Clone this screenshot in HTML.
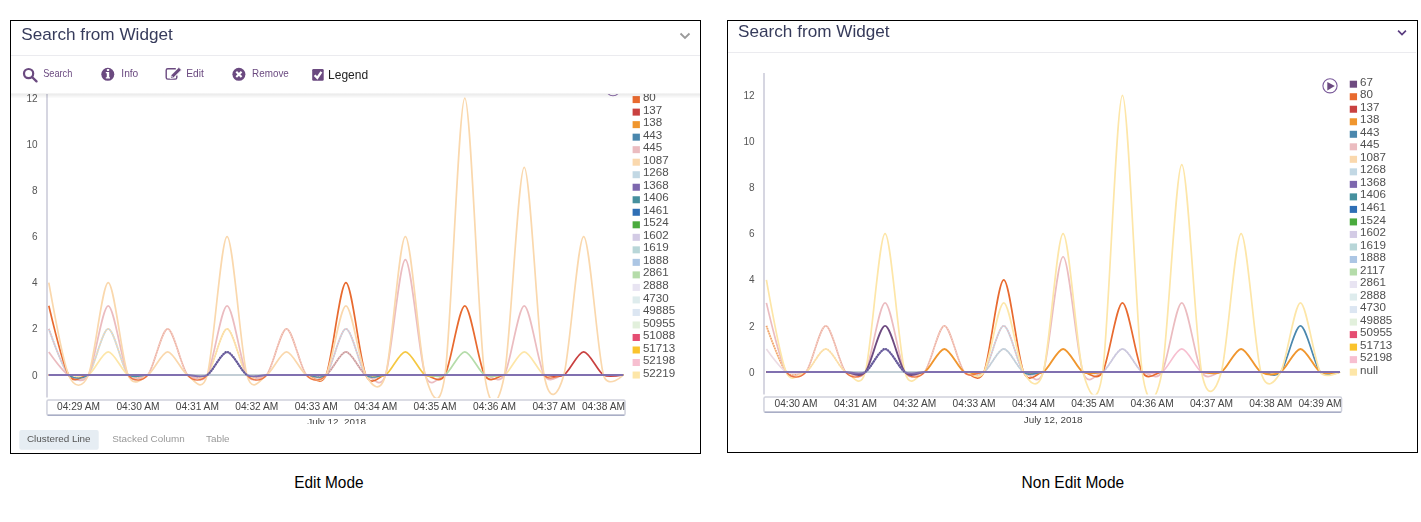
<!DOCTYPE html><html><head><meta charset="utf-8"><style>html,body{margin:0;padding:0;background:#fff}body{width:1421px;height:522px;overflow:hidden;position:relative}svg{position:absolute;left:0;top:0}</style></head><body>
<svg width="1421" height="522" viewBox="0 0 1421 522" font-family='"Liberation Sans", sans-serif'>
<text x="328.9" y="487.9" font-size="16.3" fill="#000" text-anchor="middle" textLength="69.4" lengthAdjust="spacingAndGlyphs">Edit Mode</text>
<text x="1072.9" y="487.8" font-size="16.3" fill="#000" text-anchor="middle" textLength="102.6" lengthAdjust="spacingAndGlyphs">Non Edit Mode</text>
</svg>
<div style="position:absolute;left:0;top:0;width:1421px;height:522px;will-change:transform"><svg width="1421" height="522" viewBox="0 0 1421 522" font-family='"Liberation Sans", sans-serif'>
<defs>
<clipPath id="clipL"><rect x="11" y="94" width="689" height="330"/></clipPath>
<clipPath id="plotL"><rect x="48" y="60" width="580" height="338"/></clipPath>
<clipPath id="plotR"><rect x="765" y="60" width="580" height="334.5"/></clipPath>
<linearGradient id="shadow" x1="0" y1="0" x2="0" y2="1"><stop offset="0" stop-color="#000" stop-opacity="0.09"/><stop offset="1" stop-color="#000" stop-opacity="0"/></linearGradient>
</defs>
<rect x="10.5" y="20.5" width="690" height="433" fill="#fff" stroke="#000" stroke-width="1"/>
<rect x="727.5" y="20.5" width="690" height="432" fill="#fff" stroke="#000" stroke-width="1"/>
<g clip-path="url(#clipL)">
<rect x="46.20" y="60" width="1.6" height="337.5" fill="#cdcdda"/>
<text x="37.5" y="378.60" font-size="10" fill="#555" text-anchor="end">0</text>
<text x="37.5" y="332.46" font-size="10" fill="#555" text-anchor="end">2</text>
<text x="37.5" y="286.32" font-size="10" fill="#555" text-anchor="end">4</text>
<text x="37.5" y="240.18" font-size="10" fill="#555" text-anchor="end">6</text>
<text x="37.5" y="194.04" font-size="10" fill="#555" text-anchor="end">8</text>
<text x="37.5" y="147.90" font-size="10" fill="#555" text-anchor="end">10</text>
<text x="37.5" y="101.76" font-size="10" fill="#555" text-anchor="end">12</text>
<rect x="46.95" y="399.95" width="578.10" height="15.20" rx="1.5" fill="none" stroke="#cfd1dc" stroke-width="1.5"/>
<line x1="47.7" x2="624.3" y1="415.15" y2="415.15" stroke="#a9aec6" stroke-width="1.5"/>
<text x="78.51" y="410" font-size="10.2" fill="#444" text-anchor="middle">04:29 AM</text>
<text x="137.94" y="410" font-size="10.2" fill="#444" text-anchor="middle">04:30 AM</text>
<text x="197.38" y="410" font-size="10.2" fill="#444" text-anchor="middle">04:31 AM</text>
<text x="256.81" y="410" font-size="10.2" fill="#444" text-anchor="middle">04:32 AM</text>
<text x="316.24" y="410" font-size="10.2" fill="#444" text-anchor="middle">04:33 AM</text>
<text x="375.66" y="410" font-size="10.2" fill="#444" text-anchor="middle">04:34 AM</text>
<text x="435.09" y="410" font-size="10.2" fill="#444" text-anchor="middle">04:35 AM</text>
<text x="494.52" y="410" font-size="10.2" fill="#444" text-anchor="middle">04:36 AM</text>
<text x="553.95" y="410" font-size="10.2" fill="#444" text-anchor="middle">04:37 AM</text>
<text x="625" y="410" font-size="10.2" fill="#444" text-anchor="end">04:38 AM</text>
<text x="336.6" y="425.2" font-size="9.9" fill="#444" text-anchor="middle">July 12, 2018</text>
<g clip-path="url(#plotL)">
<path d="M48.80,328.86C48.80,328.86 62.75,368.17 68.61,375.00C74.47,381.83 82.56,381.83 88.42,375.00C94.28,368.17 102.37,328.86 108.23,328.86C114.09,328.86 122.18,368.17 128.04,375.00C133.90,381.83 141.99,375.00 147.85,375.00C153.71,375.00 161.80,375.00 167.66,375.00C173.52,375.00 181.61,375.00 187.47,375.00C193.33,375.00 201.42,375.00 207.28,375.00C213.14,375.00 221.23,375.00 227.09,375.00C232.95,375.00 241.04,375.00 246.90,375.00C252.76,375.00 260.85,375.00 266.71,375.00C272.57,375.00 280.66,375.00 286.52,375.00C292.38,375.00 300.47,375.00 306.33,375.00C312.19,375.00 320.28,381.83 326.14,375.00C332.00,368.17 340.09,328.86 345.95,328.86C351.81,328.86 359.90,368.17 365.76,375.00C371.62,381.83 379.71,375.00 385.57,375.00C391.43,375.00 399.52,375.00 405.38,375.00C411.24,375.00 419.33,375.00 425.19,375.00C431.05,375.00 439.14,375.00 445.00,375.00C450.86,375.00 458.95,375.00 464.81,375.00C470.67,375.00 478.76,375.00 484.62,375.00C490.48,375.00 498.57,375.00 504.43,375.00C510.29,375.00 518.38,375.00 524.24,375.00C530.10,375.00 538.19,375.00 544.05,375.00C549.91,375.00 558.00,375.00 563.86,375.00C569.72,375.00 577.81,375.00 583.67,375.00C589.53,375.00 597.62,375.00 603.48,375.00C607.84,375.00 623.29,375.00 623.29,375.00" fill="none" stroke="#c2d8e4" stroke-width="1.7" />
<path d="M48.80,328.86C48.80,328.86 62.75,368.17 68.61,375.00C74.47,381.83 82.56,375.00 88.42,375.00C94.28,375.00 102.37,375.00 108.23,375.00C114.09,375.00 122.18,375.00 128.04,375.00C133.90,375.00 141.99,375.00 147.85,375.00C153.71,375.00 161.80,375.00 167.66,375.00C173.52,375.00 181.61,375.00 187.47,375.00C193.33,375.00 201.42,375.00 207.28,375.00C213.14,375.00 221.23,375.00 227.09,375.00C232.95,375.00 241.04,375.00 246.90,375.00C252.76,375.00 260.85,375.00 266.71,375.00C272.57,375.00 280.66,375.00 286.52,375.00C292.38,375.00 300.47,375.00 306.33,375.00C312.19,375.00 320.28,381.83 326.14,375.00C332.00,368.17 340.09,328.86 345.95,328.86C351.81,328.86 359.90,368.17 365.76,375.00C371.62,381.83 379.71,375.00 385.57,375.00C391.43,375.00 399.52,375.00 405.38,375.00C411.24,375.00 419.33,375.00 425.19,375.00C431.05,375.00 439.14,375.00 445.00,375.00C450.86,375.00 458.95,375.00 464.81,375.00C470.67,375.00 478.76,375.00 484.62,375.00C490.48,375.00 498.57,375.00 504.43,375.00C510.29,375.00 518.38,375.00 524.24,375.00C530.10,375.00 538.19,375.00 544.05,375.00C549.91,375.00 558.00,375.00 563.86,375.00C569.72,375.00 577.81,375.00 583.67,375.00C589.53,375.00 597.62,375.00 603.48,375.00C607.84,375.00 623.29,375.00 623.29,375.00" fill="none" stroke="#ebbcc0" stroke-width="1.7" stroke-dasharray="1.3 1.3"/>
<path d="M48.80,375.00C48.80,375.00 62.75,375.00 68.61,375.00C74.47,375.00 82.56,381.83 88.42,375.00C94.28,368.17 102.37,328.86 108.23,328.86C114.09,328.86 122.18,368.17 128.04,375.00C133.90,381.83 141.99,375.00 147.85,375.00C153.71,375.00 161.80,375.00 167.66,375.00C173.52,375.00 181.61,375.00 187.47,375.00C193.33,375.00 201.42,375.00 207.28,375.00C213.14,375.00 221.23,375.00 227.09,375.00C232.95,375.00 241.04,375.00 246.90,375.00C252.76,375.00 260.85,375.00 266.71,375.00C272.57,375.00 280.66,375.00 286.52,375.00C292.38,375.00 300.47,375.00 306.33,375.00C312.19,375.00 320.28,375.00 326.14,375.00C332.00,375.00 340.09,375.00 345.95,375.00C351.81,375.00 359.90,375.00 365.76,375.00C371.62,375.00 379.71,375.00 385.57,375.00C391.43,375.00 399.52,375.00 405.38,375.00C411.24,375.00 419.33,375.00 425.19,375.00C431.05,375.00 439.14,375.00 445.00,375.00C450.86,375.00 458.95,375.00 464.81,375.00C470.67,375.00 478.76,375.00 484.62,375.00C490.48,375.00 498.57,375.00 504.43,375.00C510.29,375.00 518.38,375.00 524.24,375.00C530.10,375.00 538.19,375.00 544.05,375.00C549.91,375.00 558.00,375.00 563.86,375.00C569.72,375.00 577.81,375.00 583.67,375.00C589.53,375.00 597.62,375.00 603.48,375.00C607.84,375.00 623.29,375.00 623.29,375.00" fill="none" stroke="#fad8ad" stroke-width="1.7" stroke-dasharray="1.3 1.3"/>
<path d="M48.80,375.00C48.80,375.00 62.75,375.00 68.61,375.00C74.47,375.00 82.56,375.00 88.42,375.00C94.28,375.00 102.37,375.00 108.23,375.00C114.09,375.00 122.18,375.00 128.04,375.00C133.90,375.00 141.99,375.00 147.85,375.00C153.71,375.00 161.80,375.00 167.66,375.00C173.52,375.00 181.61,375.00 187.47,375.00C193.33,375.00 201.42,381.83 207.28,375.00C213.14,368.17 221.23,328.86 227.09,328.86C232.95,328.86 241.04,368.17 246.90,375.00C252.76,381.83 260.85,375.00 266.71,375.00C272.57,375.00 280.66,375.00 286.52,375.00C292.38,375.00 300.47,375.00 306.33,375.00C312.19,375.00 320.28,375.00 326.14,375.00C332.00,375.00 340.09,375.00 345.95,375.00C351.81,375.00 359.90,375.00 365.76,375.00C371.62,375.00 379.71,375.00 385.57,375.00C391.43,375.00 399.52,375.00 405.38,375.00C411.24,375.00 419.33,375.00 425.19,375.00C431.05,375.00 439.14,375.00 445.00,375.00C450.86,375.00 458.95,375.00 464.81,375.00C470.67,375.00 478.76,375.00 484.62,375.00C490.48,375.00 498.57,375.00 504.43,375.00C510.29,375.00 518.38,375.00 524.24,375.00C530.10,375.00 538.19,375.00 544.05,375.00C549.91,375.00 558.00,375.00 563.86,375.00C569.72,375.00 577.81,375.00 583.67,375.00C589.53,375.00 597.62,375.00 603.48,375.00C607.84,375.00 623.29,375.00 623.29,375.00" fill="none" stroke="#fde6a8" stroke-width="1.7" />
<path d="M48.80,375.00C48.80,375.00 62.75,375.00 68.61,375.00C74.47,375.00 82.56,375.00 88.42,375.00C94.28,375.00 102.37,375.00 108.23,375.00C114.09,375.00 122.18,375.00 128.04,375.00C133.90,375.00 141.99,375.00 147.85,375.00C153.71,375.00 161.80,375.00 167.66,375.00C173.52,375.00 181.61,375.00 187.47,375.00C193.33,375.00 201.42,381.83 207.28,375.00C213.14,368.17 221.23,328.86 227.09,328.86C232.95,328.86 241.04,368.17 246.90,375.00C252.76,381.83 260.85,375.00 266.71,375.00C272.57,375.00 280.66,375.00 286.52,375.00C292.38,375.00 300.47,375.00 306.33,375.00C312.19,375.00 320.28,375.00 326.14,375.00C332.00,375.00 340.09,375.00 345.95,375.00C351.81,375.00 359.90,375.00 365.76,375.00C371.62,375.00 379.71,375.00 385.57,375.00C391.43,375.00 399.52,375.00 405.38,375.00C411.24,375.00 419.33,375.00 425.19,375.00C431.05,375.00 439.14,375.00 445.00,375.00C450.86,375.00 458.95,375.00 464.81,375.00C470.67,375.00 478.76,375.00 484.62,375.00C490.48,375.00 498.57,375.00 504.43,375.00C510.29,375.00 518.38,375.00 524.24,375.00C530.10,375.00 538.19,375.00 544.05,375.00C549.91,375.00 558.00,375.00 563.86,375.00C569.72,375.00 577.81,375.00 583.67,375.00C589.53,375.00 597.62,375.00 603.48,375.00C607.84,375.00 623.29,375.00 623.29,375.00" fill="none" stroke="#fad8ad" stroke-width="1.7" stroke-dasharray="1.3 1.3"/>
<path d="M48.80,375.00C48.80,375.00 62.75,375.00 68.61,375.00C74.47,375.00 82.56,375.00 88.42,375.00C94.28,375.00 102.37,375.00 108.23,375.00C114.09,375.00 122.18,375.00 128.04,375.00C133.90,375.00 141.99,381.83 147.85,375.00C153.71,368.17 161.80,328.86 167.66,328.86C173.52,328.86 181.61,368.17 187.47,375.00C193.33,381.83 201.42,375.00 207.28,375.00C213.14,375.00 221.23,375.00 227.09,375.00C232.95,375.00 241.04,375.00 246.90,375.00C252.76,375.00 260.85,381.83 266.71,375.00C272.57,368.17 280.66,328.86 286.52,328.86C292.38,328.86 300.47,368.17 306.33,375.00C312.19,381.83 320.28,375.00 326.14,375.00C332.00,375.00 340.09,375.00 345.95,375.00C351.81,375.00 359.90,375.00 365.76,375.00C371.62,375.00 379.71,375.00 385.57,375.00C391.43,375.00 399.52,375.00 405.38,375.00C411.24,375.00 419.33,375.00 425.19,375.00C431.05,375.00 439.14,375.00 445.00,375.00C450.86,375.00 458.95,375.00 464.81,375.00C470.67,375.00 478.76,375.00 484.62,375.00C490.48,375.00 498.57,375.00 504.43,375.00C510.29,375.00 518.38,375.00 524.24,375.00C530.10,375.00 538.19,375.00 544.05,375.00C549.91,375.00 558.00,375.00 563.86,375.00C569.72,375.00 577.81,375.00 583.67,375.00C589.53,375.00 597.62,375.00 603.48,375.00C607.84,375.00 623.29,375.00 623.29,375.00" fill="none" stroke="#ecb0a2" stroke-width="1.7" />
<path d="M48.80,375.00C48.80,375.00 62.75,375.00 68.61,375.00C74.47,375.00 82.56,375.00 88.42,375.00C94.28,375.00 102.37,375.00 108.23,375.00C114.09,375.00 122.18,375.00 128.04,375.00C133.90,375.00 141.99,381.83 147.85,375.00C153.71,368.17 161.80,328.86 167.66,328.86C173.52,328.86 181.61,368.17 187.47,375.00C193.33,381.83 201.42,375.00 207.28,375.00C213.14,375.00 221.23,375.00 227.09,375.00C232.95,375.00 241.04,375.00 246.90,375.00C252.76,375.00 260.85,381.83 266.71,375.00C272.57,368.17 280.66,328.86 286.52,328.86C292.38,328.86 300.47,368.17 306.33,375.00C312.19,381.83 320.28,375.00 326.14,375.00C332.00,375.00 340.09,375.00 345.95,375.00C351.81,375.00 359.90,375.00 365.76,375.00C371.62,375.00 379.71,375.00 385.57,375.00C391.43,375.00 399.52,375.00 405.38,375.00C411.24,375.00 419.33,375.00 425.19,375.00C431.05,375.00 439.14,375.00 445.00,375.00C450.86,375.00 458.95,375.00 464.81,375.00C470.67,375.00 478.76,375.00 484.62,375.00C490.48,375.00 498.57,375.00 504.43,375.00C510.29,375.00 518.38,375.00 524.24,375.00C530.10,375.00 538.19,375.00 544.05,375.00C549.91,375.00 558.00,375.00 563.86,375.00C569.72,375.00 577.81,375.00 583.67,375.00C589.53,375.00 597.62,375.00 603.48,375.00C607.84,375.00 623.29,375.00 623.29,375.00" fill="none" stroke="#f6d0c6" stroke-width="1.7" stroke-dasharray="1.3 1.3"/>
<path d="M48.80,375.00C48.80,375.00 62.75,375.00 68.61,375.00C74.47,375.00 82.56,375.00 88.42,375.00C94.28,375.00 102.37,375.00 108.23,375.00C114.09,375.00 122.18,375.00 128.04,375.00C133.90,375.00 141.99,375.00 147.85,375.00C153.71,375.00 161.80,375.00 167.66,375.00C173.52,375.00 181.61,375.00 187.47,375.00C193.33,375.00 201.42,375.00 207.28,375.00C213.14,375.00 221.23,375.00 227.09,375.00C232.95,375.00 241.04,375.00 246.90,375.00C252.76,375.00 260.85,375.00 266.71,375.00C272.57,375.00 280.66,375.00 286.52,375.00C292.38,375.00 300.47,375.00 306.33,375.00C312.19,375.00 320.28,378.41 326.14,375.00C332.00,371.59 340.09,351.93 345.95,351.93C351.81,351.93 359.90,371.59 365.76,375.00C371.62,378.41 379.71,375.00 385.57,375.00C391.43,375.00 399.52,375.00 405.38,375.00C411.24,375.00 419.33,375.00 425.19,375.00C431.05,375.00 439.14,375.00 445.00,375.00C450.86,375.00 458.95,375.00 464.81,375.00C470.67,375.00 478.76,375.00 484.62,375.00C490.48,375.00 498.57,375.00 504.43,375.00C510.29,375.00 518.38,375.00 524.24,375.00C530.10,375.00 538.19,375.00 544.05,375.00C549.91,375.00 558.00,375.00 563.86,375.00C569.72,375.00 577.81,375.00 583.67,375.00C589.53,375.00 597.62,375.00 603.48,375.00C607.84,375.00 623.29,375.00 623.29,375.00" fill="none" stroke="#c09a98" stroke-width="1.7" />
<path d="M48.80,375.00C48.80,375.00 62.75,375.00 68.61,375.00C74.47,375.00 82.56,375.00 88.42,375.00C94.28,375.00 102.37,375.00 108.23,375.00C114.09,375.00 122.18,375.00 128.04,375.00C133.90,375.00 141.99,375.00 147.85,375.00C153.71,375.00 161.80,375.00 167.66,375.00C173.52,375.00 181.61,375.00 187.47,375.00C193.33,375.00 201.42,375.00 207.28,375.00C213.14,375.00 221.23,375.00 227.09,375.00C232.95,375.00 241.04,375.00 246.90,375.00C252.76,375.00 260.85,375.00 266.71,375.00C272.57,375.00 280.66,375.00 286.52,375.00C292.38,375.00 300.47,375.00 306.33,375.00C312.19,375.00 320.28,378.41 326.14,375.00C332.00,371.59 340.09,351.93 345.95,351.93C351.81,351.93 359.90,371.59 365.76,375.00C371.62,378.41 379.71,375.00 385.57,375.00C391.43,375.00 399.52,375.00 405.38,375.00C411.24,375.00 419.33,375.00 425.19,375.00C431.05,375.00 439.14,375.00 445.00,375.00C450.86,375.00 458.95,375.00 464.81,375.00C470.67,375.00 478.76,375.00 484.62,375.00C490.48,375.00 498.57,375.00 504.43,375.00C510.29,375.00 518.38,375.00 524.24,375.00C530.10,375.00 538.19,375.00 544.05,375.00C549.91,375.00 558.00,375.00 563.86,375.00C569.72,375.00 577.81,375.00 583.67,375.00C589.53,375.00 597.62,375.00 603.48,375.00C607.84,375.00 623.29,375.00 623.29,375.00" fill="none" stroke="#ebbcc0" stroke-width="1.7" stroke-dasharray="1.3 1.3"/>
<path d="M48.80,375.00C48.80,375.00 62.75,375.00 68.61,375.00C74.47,375.00 82.56,378.41 88.42,375.00C94.28,371.59 102.37,351.93 108.23,351.93C114.09,351.93 122.18,371.59 128.04,375.00C133.90,378.41 141.99,375.00 147.85,375.00C153.71,375.00 161.80,375.00 167.66,375.00C173.52,375.00 181.61,375.00 187.47,375.00C193.33,375.00 201.42,375.00 207.28,375.00C213.14,375.00 221.23,375.00 227.09,375.00C232.95,375.00 241.04,375.00 246.90,375.00C252.76,375.00 260.85,375.00 266.71,375.00C272.57,375.00 280.66,375.00 286.52,375.00C292.38,375.00 300.47,375.00 306.33,375.00C312.19,375.00 320.28,375.00 326.14,375.00C332.00,375.00 340.09,375.00 345.95,375.00C351.81,375.00 359.90,375.00 365.76,375.00C371.62,375.00 379.71,375.00 385.57,375.00C391.43,375.00 399.52,375.00 405.38,375.00C411.24,375.00 419.33,375.00 425.19,375.00C431.05,375.00 439.14,375.00 445.00,375.00C450.86,375.00 458.95,375.00 464.81,375.00C470.67,375.00 478.76,375.00 484.62,375.00C490.48,375.00 498.57,378.41 504.43,375.00C510.29,371.59 518.38,351.93 524.24,351.93C530.10,351.93 538.19,371.59 544.05,375.00C549.91,378.41 558.00,375.00 563.86,375.00C569.72,375.00 577.81,375.00 583.67,375.00C589.53,375.00 597.62,375.00 603.48,375.00C607.84,375.00 623.29,375.00 623.29,375.00" fill="none" stroke="#fde6a8" stroke-width="1.7" />
<path d="M48.80,351.93C48.80,351.93 62.75,371.59 68.61,375.00C74.47,378.41 82.56,385.24 88.42,375.00C94.28,364.76 102.37,305.79 108.23,305.79C114.09,305.79 122.18,364.76 128.04,375.00C133.90,385.24 141.99,375.00 147.85,375.00C153.71,375.00 161.80,375.00 167.66,375.00C173.52,375.00 181.61,375.00 187.47,375.00C193.33,375.00 201.42,385.24 207.28,375.00C213.14,364.76 221.23,305.79 227.09,305.79C232.95,305.79 241.04,364.76 246.90,375.00C252.76,385.24 260.85,375.00 266.71,375.00C272.57,375.00 280.66,375.00 286.52,375.00C292.38,375.00 300.47,375.00 306.33,375.00C312.19,375.00 320.28,375.00 326.14,375.00C332.00,375.00 340.09,375.00 345.95,375.00C351.81,375.00 359.90,375.00 365.76,375.00C371.62,375.00 379.71,392.07 385.57,375.00C391.43,357.93 399.52,259.65 405.38,259.65C411.24,259.65 419.33,357.93 425.19,375.00C431.05,392.07 439.14,375.00 445.00,375.00C450.86,375.00 458.95,375.00 464.81,375.00C470.67,375.00 478.76,375.00 484.62,375.00C490.48,375.00 498.57,385.24 504.43,375.00C510.29,364.76 518.38,305.79 524.24,305.79C530.10,305.79 538.19,364.76 544.05,375.00C549.91,385.24 558.00,375.00 563.86,375.00C569.72,375.00 577.81,375.00 583.67,375.00C589.53,375.00 597.62,375.00 603.48,375.00C607.84,375.00 623.29,375.00 623.29,375.00" fill="none" stroke="#ebbcc0" stroke-width="1.7" />
<path d="M48.80,305.79C48.80,305.79 62.75,364.76 68.61,375.00C74.47,385.24 82.56,375.00 88.42,375.00C94.28,375.00 102.37,375.00 108.23,375.00C114.09,375.00 122.18,375.00 128.04,375.00C133.90,375.00 141.99,375.00 147.85,375.00C153.71,375.00 161.80,375.00 167.66,375.00C173.52,375.00 181.61,375.00 187.47,375.00C193.33,375.00 201.42,375.00 207.28,375.00C213.14,375.00 221.23,375.00 227.09,375.00C232.95,375.00 241.04,375.00 246.90,375.00C252.76,375.00 260.85,375.00 266.71,375.00C272.57,375.00 280.66,375.00 286.52,375.00C292.38,375.00 300.47,375.00 306.33,375.00C312.19,375.00 320.28,388.66 326.14,375.00C332.00,361.34 340.09,282.72 345.95,282.72C351.81,282.72 359.90,361.34 365.76,375.00C371.62,388.66 379.71,375.00 385.57,375.00C391.43,375.00 399.52,375.00 405.38,375.00C411.24,375.00 419.33,375.00 425.19,375.00C431.05,375.00 439.14,385.24 445.00,375.00C450.86,364.76 458.95,305.79 464.81,305.79C470.67,305.79 478.76,364.76 484.62,375.00C490.48,385.24 498.57,375.00 504.43,375.00C510.29,375.00 518.38,375.00 524.24,375.00C530.10,375.00 538.19,375.00 544.05,375.00C549.91,375.00 558.00,375.00 563.86,375.00C569.72,375.00 577.81,375.00 583.67,375.00C589.53,375.00 597.62,375.00 603.48,375.00C607.84,375.00 623.29,375.00 623.29,375.00" fill="none" stroke="#e86a2f" stroke-width="1.7" />
<path d="M48.80,375.00C48.80,375.00 62.75,375.00 68.61,375.00C74.47,375.00 82.56,375.00 88.42,375.00C94.28,375.00 102.37,375.00 108.23,375.00C114.09,375.00 122.18,375.00 128.04,375.00C133.90,375.00 141.99,375.00 147.85,375.00C153.71,375.00 161.80,375.00 167.66,375.00C173.52,375.00 181.61,375.00 187.47,375.00C193.33,375.00 201.42,375.00 207.28,375.00C213.14,375.00 221.23,375.00 227.09,375.00C232.95,375.00 241.04,375.00 246.90,375.00C252.76,375.00 260.85,375.00 266.71,375.00C272.57,375.00 280.66,375.00 286.52,375.00C292.38,375.00 300.47,375.00 306.33,375.00C312.19,375.00 320.28,375.00 326.14,375.00C332.00,375.00 340.09,375.00 345.95,375.00C351.81,375.00 359.90,375.00 365.76,375.00C371.62,375.00 379.71,378.41 385.57,375.00C391.43,371.59 399.52,351.93 405.38,351.93C411.24,351.93 419.33,371.59 425.19,375.00C431.05,378.41 439.14,375.00 445.00,375.00C450.86,375.00 458.95,375.00 464.81,375.00C470.67,375.00 478.76,375.00 484.62,375.00C490.48,375.00 498.57,375.00 504.43,375.00C510.29,375.00 518.38,375.00 524.24,375.00C530.10,375.00 538.19,375.00 544.05,375.00C549.91,375.00 558.00,375.00 563.86,375.00C569.72,375.00 577.81,375.00 583.67,375.00C589.53,375.00 597.62,375.00 603.48,375.00C607.84,375.00 623.29,375.00 623.29,375.00" fill="none" stroke="#f5c842" stroke-width="1.7" />
<path d="M48.80,375.00C48.80,375.00 62.75,375.00 68.61,375.00C74.47,375.00 82.56,375.00 88.42,375.00C94.28,375.00 102.37,375.00 108.23,375.00C114.09,375.00 122.18,375.00 128.04,375.00C133.90,375.00 141.99,375.00 147.85,375.00C153.71,375.00 161.80,375.00 167.66,375.00C173.52,375.00 181.61,375.00 187.47,375.00C193.33,375.00 201.42,375.00 207.28,375.00C213.14,375.00 221.23,375.00 227.09,375.00C232.95,375.00 241.04,375.00 246.90,375.00C252.76,375.00 260.85,375.00 266.71,375.00C272.57,375.00 280.66,375.00 286.52,375.00C292.38,375.00 300.47,375.00 306.33,375.00C312.19,375.00 320.28,375.00 326.14,375.00C332.00,375.00 340.09,375.00 345.95,375.00C351.81,375.00 359.90,375.00 365.76,375.00C371.62,375.00 379.71,375.00 385.57,375.00C391.43,375.00 399.52,375.00 405.38,375.00C411.24,375.00 419.33,375.00 425.19,375.00C431.05,375.00 439.14,378.41 445.00,375.00C450.86,371.59 458.95,351.93 464.81,351.93C470.67,351.93 478.76,371.59 484.62,375.00C490.48,378.41 498.57,375.00 504.43,375.00C510.29,375.00 518.38,375.00 524.24,375.00C530.10,375.00 538.19,375.00 544.05,375.00C549.91,375.00 558.00,375.00 563.86,375.00C569.72,375.00 577.81,375.00 583.67,375.00C589.53,375.00 597.62,375.00 603.48,375.00C607.84,375.00 623.29,375.00 623.29,375.00" fill="none" stroke="#b5dcaa" stroke-width="1.7" />
<path d="M48.80,375.00C48.80,375.00 62.75,375.00 68.61,375.00C74.47,375.00 82.56,375.00 88.42,375.00C94.28,375.00 102.37,375.00 108.23,375.00C114.09,375.00 122.18,375.00 128.04,375.00C133.90,375.00 141.99,375.00 147.85,375.00C153.71,375.00 161.80,375.00 167.66,375.00C173.52,375.00 181.61,375.00 187.47,375.00C193.33,375.00 201.42,375.00 207.28,375.00C213.14,375.00 221.23,375.00 227.09,375.00C232.95,375.00 241.04,375.00 246.90,375.00C252.76,375.00 260.85,375.00 266.71,375.00C272.57,375.00 280.66,375.00 286.52,375.00C292.38,375.00 300.47,375.00 306.33,375.00C312.19,375.00 320.28,375.00 326.14,375.00C332.00,375.00 340.09,375.00 345.95,375.00C351.81,375.00 359.90,375.00 365.76,375.00C371.62,375.00 379.71,375.00 385.57,375.00C391.43,375.00 399.52,375.00 405.38,375.00C411.24,375.00 419.33,375.00 425.19,375.00C431.05,375.00 439.14,375.00 445.00,375.00C450.86,375.00 458.95,375.00 464.81,375.00C470.67,375.00 478.76,375.00 484.62,375.00C490.48,375.00 498.57,375.00 504.43,375.00C510.29,375.00 518.38,375.00 524.24,375.00C530.10,375.00 538.19,375.00 544.05,375.00C549.91,375.00 558.00,378.41 563.86,375.00C569.72,371.59 577.81,351.93 583.67,351.93C589.53,351.93 597.62,371.59 603.48,375.00C607.84,377.54 623.29,375.00 623.29,375.00" fill="none" stroke="#c94140" stroke-width="1.7" />
<path d="M48.80,282.72C48.80,282.72 62.75,361.34 68.61,375.00C74.47,388.66 82.56,388.66 88.42,375.00C94.28,361.34 102.37,282.72 108.23,282.72C114.09,282.72 122.18,361.34 128.04,375.00C133.90,388.66 141.99,378.41 147.85,375.00C153.71,371.59 161.80,351.93 167.66,351.93C173.52,351.93 181.61,371.59 187.47,375.00C193.33,378.41 201.42,395.49 207.28,375.00C213.14,354.51 221.23,236.58 227.09,236.58C232.95,236.58 241.04,354.51 246.90,375.00C252.76,395.49 260.85,378.41 266.71,375.00C272.57,371.59 280.66,351.93 286.52,351.93C292.38,351.93 300.47,371.59 306.33,375.00C312.19,378.41 320.28,385.24 326.14,375.00C332.00,364.76 340.09,305.79 345.95,305.79C351.81,305.79 359.90,364.76 365.76,375.00C371.62,385.24 379.71,395.49 385.57,375.00C391.43,354.51 399.52,236.58 405.38,236.58C411.24,236.58 419.33,354.51 425.19,375.00C431.05,395.49 439.14,415.97 445.00,375.00C450.86,334.03 458.95,98.16 464.81,98.16C470.67,98.16 478.76,334.03 484.62,375.00C490.48,415.97 498.57,405.73 504.43,375.00C510.29,344.27 518.38,167.37 524.24,167.37C530.10,167.37 538.19,344.27 544.05,375.00C549.91,405.73 558.00,395.49 563.86,375.00C569.72,354.51 577.81,236.58 583.67,236.58C589.53,236.58 597.62,354.51 603.48,375.00C607.84,390.23 623.29,375.00 623.29,375.00" fill="none" stroke="#fad8ad" stroke-width="1.7" />
<path d="M68.61,375.00C74.47,379.10 82.56,379.10 88.42,375.00" fill="none" stroke="#4a90a8" stroke-width="1.2" />
<path d="M128.04,375.00C133.90,379.10 141.99,375.00 147.85,375.00" fill="none" stroke="#4a90a8" stroke-width="1.2" />
<path d="M128.04,375.00C133.90,381.83 141.99,381.83 147.85,375.00" fill="none" stroke="#ec7444" stroke-width="1.3" />
<path d="M187.47,375.00C193.33,381.83 201.42,381.83 207.28,375.00" fill="none" stroke="#ec7444" stroke-width="1.3" />
<path d="M246.90,375.00C252.76,381.83 260.85,381.83 266.71,375.00" fill="none" stroke="#ec7444" stroke-width="1.3" />
<path d="M544.05,375.00C549.91,381.83 558.00,375.00 563.86,375.00" fill="none" stroke="#ec7444" stroke-width="1.3" />
<path d="M306.33,375.00C312.19,375.00 320.28,380.12 326.14,375.00" fill="none" stroke="#4a90a8" stroke-width="1.2" />
<path d="M365.76,375.00C371.62,380.12 379.71,375.00 385.57,375.00" fill="none" stroke="#4a90a8" stroke-width="1.2" />
<path d="M306.33,375.00C312.19,381.83 320.28,381.83 326.14,375.00" fill="none" stroke="#ec7444" stroke-width="1.3" />
<line x1="187.47" x2="266.71" y1="375.0" y2="375.0" stroke="#c3ced6" stroke-width="2"/>
<path d="M48.80,375.00C48.80,375.00 62.75,375.00 68.61,375.00C74.47,375.00 82.56,375.00 88.42,375.00C94.28,375.00 102.37,375.00 108.23,375.00C114.09,375.00 122.18,375.00 128.04,375.00C133.90,375.00 141.99,375.00 147.85,375.00C153.71,375.00 161.80,375.00 167.66,375.00C173.52,375.00 181.61,375.00 187.47,375.00C193.33,375.00 201.42,378.41 207.28,375.00C213.14,371.59 221.23,351.93 227.09,351.93C232.95,351.93 241.04,371.59 246.90,375.00C252.76,378.41 260.85,375.00 266.71,375.00C272.57,375.00 280.66,375.00 286.52,375.00C292.38,375.00 300.47,375.00 306.33,375.00C312.19,375.00 320.28,375.00 326.14,375.00C332.00,375.00 340.09,375.00 345.95,375.00C351.81,375.00 359.90,375.00 365.76,375.00C371.62,375.00 379.71,375.00 385.57,375.00C391.43,375.00 399.52,375.00 405.38,375.00C411.24,375.00 419.33,375.00 425.19,375.00C431.05,375.00 439.14,375.00 445.00,375.00C450.86,375.00 458.95,375.00 464.81,375.00C470.67,375.00 478.76,375.00 484.62,375.00C490.48,375.00 498.57,375.00 504.43,375.00C510.29,375.00 518.38,375.00 524.24,375.00C530.10,375.00 538.19,375.00 544.05,375.00C549.91,375.00 558.00,375.00 563.86,375.00C569.72,375.00 577.81,375.00 583.67,375.00C589.53,375.00 597.62,375.00 603.48,375.00C607.84,375.00 623.29,375.00 623.29,375.00" fill="none" stroke="#8070b0" stroke-width="2" />
<path d="M207.28,375.00C213.14,371.59 221.23,351.93 227.09,351.93C232.95,351.93 241.04,371.59 246.90,375.00" fill="none" stroke="#5e5890" stroke-width="2" stroke-dasharray="1.3 1.3"/>
</g>
<rect x="632.6" y="83.58" width="7.3" height="7" fill="#6e4a80"/>
<text x="642.9" y="88.68" font-size="11.6" fill="#505050">67</text>
<rect x="632.6" y="96.10" width="7.3" height="7" fill="#e86a2f"/>
<text x="642.9" y="101.20" font-size="11.6" fill="#505050">80</text>
<rect x="632.6" y="108.62" width="7.3" height="7" fill="#c94140"/>
<text x="642.9" y="113.72" font-size="11.6" fill="#505050">137</text>
<rect x="632.6" y="121.14" width="7.3" height="7" fill="#f0962e"/>
<text x="642.9" y="126.24" font-size="11.6" fill="#505050">138</text>
<rect x="632.6" y="133.66" width="7.3" height="7" fill="#4a87ad"/>
<text x="642.9" y="138.76" font-size="11.6" fill="#505050">443</text>
<rect x="632.6" y="146.18" width="7.3" height="7" fill="#ebbcc0"/>
<text x="642.9" y="151.28" font-size="11.6" fill="#505050">445</text>
<rect x="632.6" y="158.70" width="7.3" height="7" fill="#fad8ad"/>
<text x="642.9" y="163.80" font-size="11.6" fill="#505050">1087</text>
<rect x="632.6" y="171.22" width="7.3" height="7" fill="#c2d8e4"/>
<text x="642.9" y="176.32" font-size="11.6" fill="#505050">1268</text>
<rect x="632.6" y="183.74" width="7.3" height="7" fill="#7d67ae"/>
<text x="642.9" y="188.84" font-size="11.6" fill="#505050">1368</text>
<rect x="632.6" y="196.26" width="7.3" height="7" fill="#46909e"/>
<text x="642.9" y="201.36" font-size="11.6" fill="#505050">1406</text>
<rect x="632.6" y="208.78" width="7.3" height="7" fill="#2f6fb5"/>
<text x="642.9" y="213.88" font-size="11.6" fill="#505050">1461</text>
<rect x="632.6" y="221.30" width="7.3" height="7" fill="#4aab3e"/>
<text x="642.9" y="226.40" font-size="11.6" fill="#505050">1524</text>
<rect x="632.6" y="233.82" width="7.3" height="7" fill="#d3cbe5"/>
<text x="642.9" y="238.92" font-size="11.6" fill="#505050">1602</text>
<rect x="632.6" y="246.34" width="7.3" height="7" fill="#b8d6d8"/>
<text x="642.9" y="251.44" font-size="11.6" fill="#505050">1619</text>
<rect x="632.6" y="258.86" width="7.3" height="7" fill="#acc6e4"/>
<text x="642.9" y="263.96" font-size="11.6" fill="#505050">1888</text>
<rect x="632.6" y="271.38" width="7.3" height="7" fill="#b5dcaa"/>
<text x="642.9" y="276.48" font-size="11.6" fill="#505050">2861</text>
<rect x="632.6" y="283.90" width="7.3" height="7" fill="#e8e4f2"/>
<text x="642.9" y="289.00" font-size="11.6" fill="#505050">2888</text>
<rect x="632.6" y="296.42" width="7.3" height="7" fill="#deeced"/>
<text x="642.9" y="301.52" font-size="11.6" fill="#505050">4730</text>
<rect x="632.6" y="308.94" width="7.3" height="7" fill="#dce6f2"/>
<text x="642.9" y="314.04" font-size="11.6" fill="#505050">49885</text>
<rect x="632.6" y="321.46" width="7.3" height="7" fill="#e2f0dc"/>
<text x="642.9" y="326.56" font-size="11.6" fill="#505050">50955</text>
<rect x="632.6" y="333.98" width="7.3" height="7" fill="#e54d72"/>
<text x="642.9" y="339.08" font-size="11.6" fill="#505050">51088</text>
<rect x="632.6" y="346.50" width="7.3" height="7" fill="#fac32c"/>
<text x="642.9" y="351.60" font-size="11.6" fill="#505050">51713</text>
<rect x="632.6" y="359.02" width="7.3" height="7" fill="#f7bfd0"/>
<text x="642.9" y="364.12" font-size="11.6" fill="#505050">52198</text>
<rect x="632.6" y="371.54" width="7.3" height="7" fill="#fde6a8"/>
<text x="642.9" y="376.64" font-size="11.6" fill="#505050">52219</text>
<circle cx="613" cy="88.7" r="7.1" fill="none" stroke="#8a6aa8" stroke-width="1.1"/>
</g>
<rect x="11" y="56" width="689" height="38" fill="#fff"/>
<rect x="11" y="93.5" width="689" height="5" fill="url(#shadow)"/>
<text x="21.3" y="40.3" font-size="17.15" fill="#363b5b">Search from Widget</text>
<rect x="11" y="55" width="689" height="1" fill="#ebebef"/>
<path d="M680.5,33.5 L685,38 L689.5,33.5" fill="none" stroke="#9a9a9a" stroke-width="1.8"/>
<circle cx="28.6" cy="73.6" r="4.6" fill="none" stroke="#6b4a80" stroke-width="2.2"/><line x1="32" y1="77" x2="36.5" y2="81.3" stroke="#6b4a80" stroke-width="2.4" stroke-linecap="round"/>
<text x="43.2" y="76.8" font-size="10.2" fill="#6b4a80" textLength="29.1" lengthAdjust="spacingAndGlyphs">Search</text>
<circle cx="107.8" cy="74.3" r="6.5" fill="#6b4a80"/><rect x="106.9" y="69.1" width="2.3" height="1.8" rx="0.4" fill="#fff"/><path d="M105.8,71.9 H109.2 V77.2 H110 V78.6 H105.8 V77.2 H106.8 V73.2 H105.8 Z" fill="#fff"/>
<text x="121.3" y="76.8" font-size="10.2" fill="#6b4a80">Info</text>
<path d="M175.8,68.7 H167.8 Q166.2,68.7 166.2,70.3 V77.5 Q166.2,79.1 167.8,79.1 H175.2 Q176.8,79.1 176.8,77.5 V75.5" fill="none" stroke="#6b4a80" stroke-width="1.4"/><path d="M171.1,75.1 L178.9,67.3 L181.5,69.9 L173.7,77.7 L170.3,78.5 Z" fill="#6b4a80" stroke="#fff" stroke-width="0.9"/><circle cx="172" cy="76.6" r="0.7" fill="#fff"/>
<text x="186.2" y="76.8" font-size="10.2" fill="#6b4a80">Edit</text>
<circle cx="238.9" cy="74.3" r="6.5" fill="#6b4a80"/><path d="M237,72.4 L240.8,76.2 M240.8,72.4 L237,76.2" stroke="#fff" stroke-width="2.1" stroke-linecap="square"/>
<text x="252.1" y="76.8" font-size="10.2" fill="#6b4a80" textLength="36.7" lengthAdjust="spacingAndGlyphs">Remove</text>
<rect x="312.2" y="69.1" width="11.5" height="11.6" rx="1.2" fill="#6b4a80"/><path d="M314.6,75.2 L317.3,77.9 L321.4,71.8" fill="none" stroke="#fff" stroke-width="2.3"/>
<text x="328.1" y="78.9" font-size="12" fill="#222">Legend</text>
<rect x="19.3" y="429.9" width="79.4" height="19.8" rx="2" fill="#e6edf3"/>
<text x="26.9" y="442.1" font-size="9.9" fill="#555">Clustered Line</text>
<text x="112.2" y="442.1" font-size="9.9" fill="#999">Stacked Column</text>
<text x="206" y="442.1" font-size="9.9" fill="#999">Table</text>
<text x="738.1" y="36.6" font-size="17.15" fill="#363b5b">Search from Widget</text>
<rect x="728" y="52" width="688" height="1" fill="#ebebef"/>
<path d="M1398.1,30.6 L1402,34.5 L1405.9,30.6" fill="none" stroke="#5a3d80" stroke-width="1.7"/>
<rect x="763.20" y="73" width="1.6" height="321.5" fill="#cdcdda"/>
<text x="754.5" y="375.60" font-size="10" fill="#555" text-anchor="end">0</text>
<text x="754.5" y="329.50" font-size="10" fill="#555" text-anchor="end">2</text>
<text x="754.5" y="283.40" font-size="10" fill="#555" text-anchor="end">4</text>
<text x="754.5" y="237.30" font-size="10" fill="#555" text-anchor="end">6</text>
<text x="754.5" y="191.20" font-size="10" fill="#555" text-anchor="end">8</text>
<text x="754.5" y="145.10" font-size="10" fill="#555" text-anchor="end">10</text>
<text x="754.5" y="99.00" font-size="10" fill="#555" text-anchor="end">12</text>
<rect x="763.95" y="397.05" width="577.60" height="15.20" rx="1.5" fill="none" stroke="#cfd1dc" stroke-width="1.5"/>
<line x1="764.7" x2="1340.8" y1="412.25" y2="412.25" stroke="#a9aec6" stroke-width="1.5"/>
<text x="796.07" y="406.9" font-size="10.2" fill="#444" text-anchor="middle">04:30 AM</text>
<text x="855.41" y="406.9" font-size="10.2" fill="#444" text-anchor="middle">04:31 AM</text>
<text x="914.75" y="406.9" font-size="10.2" fill="#444" text-anchor="middle">04:32 AM</text>
<text x="974.09" y="406.9" font-size="10.2" fill="#444" text-anchor="middle">04:33 AM</text>
<text x="1033.43" y="406.9" font-size="10.2" fill="#444" text-anchor="middle">04:34 AM</text>
<text x="1092.77" y="406.9" font-size="10.2" fill="#444" text-anchor="middle">04:35 AM</text>
<text x="1152.11" y="406.9" font-size="10.2" fill="#444" text-anchor="middle">04:36 AM</text>
<text x="1211.45" y="406.9" font-size="10.2" fill="#444" text-anchor="middle">04:37 AM</text>
<text x="1270.79" y="406.9" font-size="10.2" fill="#444" text-anchor="middle">04:38 AM</text>
<text x="1341.5" y="406.9" font-size="10.2" fill="#444" text-anchor="end">04:39 AM</text>
<text x="1053.1" y="422.6" font-size="9.9" fill="#444" text-anchor="middle">July 12, 2018</text>
<g clip-path="url(#plotR)">
<path d="M766.40,372.00C766.40,372.00 780.33,372.00 786.18,372.00C792.03,372.00 800.11,372.00 805.96,372.00C811.81,372.00 819.89,372.00 825.74,372.00C831.59,372.00 839.67,372.00 845.52,372.00C851.37,372.00 859.45,372.00 865.30,372.00C871.15,372.00 879.23,372.00 885.08,372.00C890.93,372.00 899.01,372.00 904.86,372.00C910.71,372.00 918.79,372.00 924.64,372.00C930.49,372.00 938.57,372.00 944.42,372.00C950.27,372.00 958.35,372.00 964.20,372.00C970.05,372.00 978.13,375.41 983.98,372.00C989.83,368.59 997.91,348.95 1003.76,348.95C1009.61,348.95 1017.69,368.59 1023.54,372.00C1029.39,375.41 1037.47,372.00 1043.32,372.00C1049.17,372.00 1057.25,372.00 1063.10,372.00C1068.95,372.00 1077.03,372.00 1082.88,372.00C1088.73,372.00 1096.81,372.00 1102.66,372.00C1108.51,372.00 1116.59,372.00 1122.44,372.00C1128.29,372.00 1136.37,372.00 1142.22,372.00C1148.07,372.00 1156.15,372.00 1162.00,372.00C1167.85,372.00 1175.93,372.00 1181.78,372.00C1187.63,372.00 1195.71,372.00 1201.56,372.00C1207.41,372.00 1215.49,372.00 1221.34,372.00C1227.19,372.00 1235.27,372.00 1241.12,372.00C1246.97,372.00 1255.05,372.00 1260.90,372.00C1266.75,372.00 1274.83,372.00 1280.68,372.00C1286.53,372.00 1294.61,372.00 1300.46,372.00C1306.31,372.00 1314.39,372.00 1320.24,372.00C1324.59,372.00 1340.02,372.00 1340.02,372.00" fill="none" stroke="#c8c8d0" stroke-width="1.7" />
<path d="M766.40,372.00C766.40,372.00 780.33,372.00 786.18,372.00C792.03,372.00 800.11,372.00 805.96,372.00C811.81,372.00 819.89,372.00 825.74,372.00C831.59,372.00 839.67,372.00 845.52,372.00C851.37,372.00 859.45,372.00 865.30,372.00C871.15,372.00 879.23,372.00 885.08,372.00C890.93,372.00 899.01,372.00 904.86,372.00C910.71,372.00 918.79,372.00 924.64,372.00C930.49,372.00 938.57,372.00 944.42,372.00C950.27,372.00 958.35,372.00 964.20,372.00C970.05,372.00 978.13,375.41 983.98,372.00C989.83,368.59 997.91,348.95 1003.76,348.95C1009.61,348.95 1017.69,368.59 1023.54,372.00C1029.39,375.41 1037.47,372.00 1043.32,372.00C1049.17,372.00 1057.25,372.00 1063.10,372.00C1068.95,372.00 1077.03,372.00 1082.88,372.00C1088.73,372.00 1096.81,372.00 1102.66,372.00C1108.51,372.00 1116.59,372.00 1122.44,372.00C1128.29,372.00 1136.37,372.00 1142.22,372.00C1148.07,372.00 1156.15,372.00 1162.00,372.00C1167.85,372.00 1175.93,372.00 1181.78,372.00C1187.63,372.00 1195.71,372.00 1201.56,372.00C1207.41,372.00 1215.49,372.00 1221.34,372.00C1227.19,372.00 1235.27,372.00 1241.12,372.00C1246.97,372.00 1255.05,372.00 1260.90,372.00C1266.75,372.00 1274.83,372.00 1280.68,372.00C1286.53,372.00 1294.61,372.00 1300.46,372.00C1306.31,372.00 1314.39,372.00 1320.24,372.00C1324.59,372.00 1340.02,372.00 1340.02,372.00" fill="none" stroke="#c2d8e4" stroke-width="1.7" stroke-dasharray="1.3 1.3"/>
<path d="M766.40,372.00C766.40,372.00 780.33,372.00 786.18,372.00C792.03,372.00 800.11,372.00 805.96,372.00C811.81,372.00 819.89,372.00 825.74,372.00C831.59,372.00 839.67,372.00 845.52,372.00C851.37,372.00 859.45,372.00 865.30,372.00C871.15,372.00 879.23,372.00 885.08,372.00C890.93,372.00 899.01,372.00 904.86,372.00C910.71,372.00 918.79,372.00 924.64,372.00C930.49,372.00 938.57,372.00 944.42,372.00C950.27,372.00 958.35,372.00 964.20,372.00C970.05,372.00 978.13,378.82 983.98,372.00C989.83,365.18 997.91,325.90 1003.76,325.90C1009.61,325.90 1017.69,365.18 1023.54,372.00C1029.39,378.82 1037.47,372.00 1043.32,372.00C1049.17,372.00 1057.25,372.00 1063.10,372.00C1068.95,372.00 1077.03,372.00 1082.88,372.00C1088.73,372.00 1096.81,372.00 1102.66,372.00C1108.51,372.00 1116.59,372.00 1122.44,372.00C1128.29,372.00 1136.37,372.00 1142.22,372.00C1148.07,372.00 1156.15,372.00 1162.00,372.00C1167.85,372.00 1175.93,372.00 1181.78,372.00C1187.63,372.00 1195.71,372.00 1201.56,372.00C1207.41,372.00 1215.49,372.00 1221.34,372.00C1227.19,372.00 1235.27,372.00 1241.12,372.00C1246.97,372.00 1255.05,372.00 1260.90,372.00C1266.75,372.00 1274.83,372.00 1280.68,372.00C1286.53,372.00 1294.61,372.00 1300.46,372.00C1306.31,372.00 1314.39,372.00 1320.24,372.00C1324.59,372.00 1340.02,372.00 1340.02,372.00" fill="none" stroke="#c2d8e4" stroke-width="1.7" />
<path d="M766.40,372.00C766.40,372.00 780.33,372.00 786.18,372.00C792.03,372.00 800.11,372.00 805.96,372.00C811.81,372.00 819.89,372.00 825.74,372.00C831.59,372.00 839.67,372.00 845.52,372.00C851.37,372.00 859.45,372.00 865.30,372.00C871.15,372.00 879.23,372.00 885.08,372.00C890.93,372.00 899.01,372.00 904.86,372.00C910.71,372.00 918.79,372.00 924.64,372.00C930.49,372.00 938.57,372.00 944.42,372.00C950.27,372.00 958.35,372.00 964.20,372.00C970.05,372.00 978.13,378.82 983.98,372.00C989.83,365.18 997.91,325.90 1003.76,325.90C1009.61,325.90 1017.69,365.18 1023.54,372.00C1029.39,378.82 1037.47,372.00 1043.32,372.00C1049.17,372.00 1057.25,372.00 1063.10,372.00C1068.95,372.00 1077.03,372.00 1082.88,372.00C1088.73,372.00 1096.81,372.00 1102.66,372.00C1108.51,372.00 1116.59,372.00 1122.44,372.00C1128.29,372.00 1136.37,372.00 1142.22,372.00C1148.07,372.00 1156.15,372.00 1162.00,372.00C1167.85,372.00 1175.93,372.00 1181.78,372.00C1187.63,372.00 1195.71,372.00 1201.56,372.00C1207.41,372.00 1215.49,372.00 1221.34,372.00C1227.19,372.00 1235.27,372.00 1241.12,372.00C1246.97,372.00 1255.05,372.00 1260.90,372.00C1266.75,372.00 1274.83,372.00 1280.68,372.00C1286.53,372.00 1294.61,372.00 1300.46,372.00C1306.31,372.00 1314.39,372.00 1320.24,372.00C1324.59,372.00 1340.02,372.00 1340.02,372.00" fill="none" stroke="#ebbcc0" stroke-width="1.7" stroke-dasharray="1.3 1.3"/>
<path d="M766.40,372.00C766.40,372.00 780.33,372.00 786.18,372.00C792.03,372.00 800.11,372.00 805.96,372.00C811.81,372.00 819.89,372.00 825.74,372.00C831.59,372.00 839.67,372.00 845.52,372.00C851.37,372.00 859.45,372.00 865.30,372.00C871.15,372.00 879.23,372.00 885.08,372.00C890.93,372.00 899.01,372.00 904.86,372.00C910.71,372.00 918.79,372.00 924.64,372.00C930.49,372.00 938.57,372.00 944.42,372.00C950.27,372.00 958.35,372.00 964.20,372.00C970.05,372.00 978.13,372.00 983.98,372.00C989.83,372.00 997.91,372.00 1003.76,372.00C1009.61,372.00 1017.69,372.00 1023.54,372.00C1029.39,372.00 1037.47,372.00 1043.32,372.00C1049.17,372.00 1057.25,372.00 1063.10,372.00C1068.95,372.00 1077.03,372.00 1082.88,372.00C1088.73,372.00 1096.81,375.41 1102.66,372.00C1108.51,368.59 1116.59,348.95 1122.44,348.95C1128.29,348.95 1136.37,368.59 1142.22,372.00C1148.07,375.41 1156.15,372.00 1162.00,372.00C1167.85,372.00 1175.93,372.00 1181.78,372.00C1187.63,372.00 1195.71,372.00 1201.56,372.00C1207.41,372.00 1215.49,372.00 1221.34,372.00C1227.19,372.00 1235.27,372.00 1241.12,372.00C1246.97,372.00 1255.05,372.00 1260.90,372.00C1266.75,372.00 1274.83,372.00 1280.68,372.00C1286.53,372.00 1294.61,372.00 1300.46,372.00C1306.31,372.00 1314.39,372.00 1320.24,372.00C1324.59,372.00 1340.02,372.00 1340.02,372.00" fill="none" stroke="#c8c8d8" stroke-width="1.7" />
<path d="M766.40,372.00C766.40,372.00 780.33,372.00 786.18,372.00C792.03,372.00 800.11,372.00 805.96,372.00C811.81,372.00 819.89,372.00 825.74,372.00C831.59,372.00 839.67,372.00 845.52,372.00C851.37,372.00 859.45,372.00 865.30,372.00C871.15,372.00 879.23,372.00 885.08,372.00C890.93,372.00 899.01,372.00 904.86,372.00C910.71,372.00 918.79,372.00 924.64,372.00C930.49,372.00 938.57,372.00 944.42,372.00C950.27,372.00 958.35,372.00 964.20,372.00C970.05,372.00 978.13,372.00 983.98,372.00C989.83,372.00 997.91,372.00 1003.76,372.00C1009.61,372.00 1017.69,372.00 1023.54,372.00C1029.39,372.00 1037.47,372.00 1043.32,372.00C1049.17,372.00 1057.25,372.00 1063.10,372.00C1068.95,372.00 1077.03,372.00 1082.88,372.00C1088.73,372.00 1096.81,375.41 1102.66,372.00C1108.51,368.59 1116.59,348.95 1122.44,348.95C1128.29,348.95 1136.37,368.59 1142.22,372.00C1148.07,375.41 1156.15,372.00 1162.00,372.00C1167.85,372.00 1175.93,372.00 1181.78,372.00C1187.63,372.00 1195.71,372.00 1201.56,372.00C1207.41,372.00 1215.49,372.00 1221.34,372.00C1227.19,372.00 1235.27,372.00 1241.12,372.00C1246.97,372.00 1255.05,372.00 1260.90,372.00C1266.75,372.00 1274.83,372.00 1280.68,372.00C1286.53,372.00 1294.61,372.00 1300.46,372.00C1306.31,372.00 1314.39,372.00 1320.24,372.00C1324.59,372.00 1340.02,372.00 1340.02,372.00" fill="none" stroke="#d3cbe5" stroke-width="1.7" stroke-dasharray="1.3 1.3"/>
<path d="M766.40,372.00C766.40,372.00 780.33,372.00 786.18,372.00C792.03,372.00 800.11,378.82 805.96,372.00C811.81,365.18 819.89,325.90 825.74,325.90C831.59,325.90 839.67,365.18 845.52,372.00C851.37,378.82 859.45,372.00 865.30,372.00C871.15,372.00 879.23,372.00 885.08,372.00C890.93,372.00 899.01,372.00 904.86,372.00C910.71,372.00 918.79,378.82 924.64,372.00C930.49,365.18 938.57,325.90 944.42,325.90C950.27,325.90 958.35,365.18 964.20,372.00C970.05,378.82 978.13,372.00 983.98,372.00C989.83,372.00 997.91,372.00 1003.76,372.00C1009.61,372.00 1017.69,372.00 1023.54,372.00C1029.39,372.00 1037.47,372.00 1043.32,372.00C1049.17,372.00 1057.25,372.00 1063.10,372.00C1068.95,372.00 1077.03,372.00 1082.88,372.00C1088.73,372.00 1096.81,372.00 1102.66,372.00C1108.51,372.00 1116.59,372.00 1122.44,372.00C1128.29,372.00 1136.37,372.00 1142.22,372.00C1148.07,372.00 1156.15,372.00 1162.00,372.00C1167.85,372.00 1175.93,372.00 1181.78,372.00C1187.63,372.00 1195.71,372.00 1201.56,372.00C1207.41,372.00 1215.49,372.00 1221.34,372.00C1227.19,372.00 1235.27,372.00 1241.12,372.00C1246.97,372.00 1255.05,372.00 1260.90,372.00C1266.75,372.00 1274.83,372.00 1280.68,372.00C1286.53,372.00 1294.61,372.00 1300.46,372.00C1306.31,372.00 1314.39,372.00 1320.24,372.00C1324.59,372.00 1340.02,372.00 1340.02,372.00" fill="none" stroke="#ecb0a2" stroke-width="1.7" />
<path d="M766.40,372.00C766.40,372.00 780.33,372.00 786.18,372.00C792.03,372.00 800.11,378.82 805.96,372.00C811.81,365.18 819.89,325.90 825.74,325.90C831.59,325.90 839.67,365.18 845.52,372.00C851.37,378.82 859.45,372.00 865.30,372.00C871.15,372.00 879.23,372.00 885.08,372.00C890.93,372.00 899.01,372.00 904.86,372.00C910.71,372.00 918.79,378.82 924.64,372.00C930.49,365.18 938.57,325.90 944.42,325.90C950.27,325.90 958.35,365.18 964.20,372.00C970.05,378.82 978.13,372.00 983.98,372.00C989.83,372.00 997.91,372.00 1003.76,372.00C1009.61,372.00 1017.69,372.00 1023.54,372.00C1029.39,372.00 1037.47,372.00 1043.32,372.00C1049.17,372.00 1057.25,372.00 1063.10,372.00C1068.95,372.00 1077.03,372.00 1082.88,372.00C1088.73,372.00 1096.81,372.00 1102.66,372.00C1108.51,372.00 1116.59,372.00 1122.44,372.00C1128.29,372.00 1136.37,372.00 1142.22,372.00C1148.07,372.00 1156.15,372.00 1162.00,372.00C1167.85,372.00 1175.93,372.00 1181.78,372.00C1187.63,372.00 1195.71,372.00 1201.56,372.00C1207.41,372.00 1215.49,372.00 1221.34,372.00C1227.19,372.00 1235.27,372.00 1241.12,372.00C1246.97,372.00 1255.05,372.00 1260.90,372.00C1266.75,372.00 1274.83,372.00 1280.68,372.00C1286.53,372.00 1294.61,372.00 1300.46,372.00C1306.31,372.00 1314.39,372.00 1320.24,372.00C1324.59,372.00 1340.02,372.00 1340.02,372.00" fill="none" stroke="#f6d0c6" stroke-width="1.7" stroke-dasharray="1.3 1.3"/>
<path d="M766.40,372.00C766.40,372.00 780.33,372.00 786.18,372.00C792.03,372.00 800.11,375.41 805.96,372.00C811.81,368.59 819.89,348.95 825.74,348.95C831.59,348.95 839.67,368.59 845.52,372.00C851.37,375.41 859.45,372.00 865.30,372.00C871.15,372.00 879.23,372.00 885.08,372.00C890.93,372.00 899.01,372.00 904.86,372.00C910.71,372.00 918.79,372.00 924.64,372.00C930.49,372.00 938.57,372.00 944.42,372.00C950.27,372.00 958.35,372.00 964.20,372.00C970.05,372.00 978.13,372.00 983.98,372.00C989.83,372.00 997.91,372.00 1003.76,372.00C1009.61,372.00 1017.69,372.00 1023.54,372.00C1029.39,372.00 1037.47,372.00 1043.32,372.00C1049.17,372.00 1057.25,372.00 1063.10,372.00C1068.95,372.00 1077.03,372.00 1082.88,372.00C1088.73,372.00 1096.81,372.00 1102.66,372.00C1108.51,372.00 1116.59,372.00 1122.44,372.00C1128.29,372.00 1136.37,372.00 1142.22,372.00C1148.07,372.00 1156.15,372.00 1162.00,372.00C1167.85,372.00 1175.93,372.00 1181.78,372.00C1187.63,372.00 1195.71,372.00 1201.56,372.00C1207.41,372.00 1215.49,372.00 1221.34,372.00C1227.19,372.00 1235.27,372.00 1241.12,372.00C1246.97,372.00 1255.05,372.00 1260.90,372.00C1266.75,372.00 1274.83,372.00 1280.68,372.00C1286.53,372.00 1294.61,372.00 1300.46,372.00C1306.31,372.00 1314.39,372.00 1320.24,372.00C1324.59,372.00 1340.02,372.00 1340.02,372.00" fill="none" stroke="#fde6a8" stroke-width="1.7" />
<path d="M766.40,372.00C766.40,372.00 780.33,372.00 786.18,372.00C792.03,372.00 800.11,375.41 805.96,372.00C811.81,368.59 819.89,348.95 825.74,348.95C831.59,348.95 839.67,368.59 845.52,372.00C851.37,375.41 859.45,372.00 865.30,372.00C871.15,372.00 879.23,372.00 885.08,372.00C890.93,372.00 899.01,372.00 904.86,372.00C910.71,372.00 918.79,372.00 924.64,372.00C930.49,372.00 938.57,372.00 944.42,372.00C950.27,372.00 958.35,372.00 964.20,372.00C970.05,372.00 978.13,372.00 983.98,372.00C989.83,372.00 997.91,372.00 1003.76,372.00C1009.61,372.00 1017.69,372.00 1023.54,372.00C1029.39,372.00 1037.47,372.00 1043.32,372.00C1049.17,372.00 1057.25,372.00 1063.10,372.00C1068.95,372.00 1077.03,372.00 1082.88,372.00C1088.73,372.00 1096.81,372.00 1102.66,372.00C1108.51,372.00 1116.59,372.00 1122.44,372.00C1128.29,372.00 1136.37,372.00 1142.22,372.00C1148.07,372.00 1156.15,372.00 1162.00,372.00C1167.85,372.00 1175.93,372.00 1181.78,372.00C1187.63,372.00 1195.71,372.00 1201.56,372.00C1207.41,372.00 1215.49,372.00 1221.34,372.00C1227.19,372.00 1235.27,372.00 1241.12,372.00C1246.97,372.00 1255.05,372.00 1260.90,372.00C1266.75,372.00 1274.83,372.00 1280.68,372.00C1286.53,372.00 1294.61,372.00 1300.46,372.00C1306.31,372.00 1314.39,372.00 1320.24,372.00C1324.59,372.00 1340.02,372.00 1340.02,372.00" fill="none" stroke="#fad8ad" stroke-width="1.7" stroke-dasharray="1.3 1.3"/>
<path d="M766.40,325.90C766.40,325.90 780.33,365.18 786.18,372.00C792.03,378.82 800.11,372.00 805.96,372.00C811.81,372.00 819.89,372.00 825.74,372.00C831.59,372.00 839.67,372.00 845.52,372.00C851.37,372.00 859.45,372.00 865.30,372.00C871.15,372.00 879.23,372.00 885.08,372.00C890.93,372.00 899.01,372.00 904.86,372.00C910.71,372.00 918.79,372.00 924.64,372.00C930.49,372.00 938.57,372.00 944.42,372.00C950.27,372.00 958.35,372.00 964.20,372.00C970.05,372.00 978.13,372.00 983.98,372.00C989.83,372.00 997.91,372.00 1003.76,372.00C1009.61,372.00 1017.69,372.00 1023.54,372.00C1029.39,372.00 1037.47,372.00 1043.32,372.00C1049.17,372.00 1057.25,372.00 1063.10,372.00C1068.95,372.00 1077.03,372.00 1082.88,372.00C1088.73,372.00 1096.81,372.00 1102.66,372.00C1108.51,372.00 1116.59,372.00 1122.44,372.00C1128.29,372.00 1136.37,372.00 1142.22,372.00C1148.07,372.00 1156.15,372.00 1162.00,372.00C1167.85,372.00 1175.93,372.00 1181.78,372.00C1187.63,372.00 1195.71,372.00 1201.56,372.00C1207.41,372.00 1215.49,372.00 1221.34,372.00C1227.19,372.00 1235.27,372.00 1241.12,372.00C1246.97,372.00 1255.05,372.00 1260.90,372.00C1266.75,372.00 1274.83,372.00 1280.68,372.00C1286.53,372.00 1294.61,372.00 1300.46,372.00C1306.31,372.00 1314.39,372.00 1320.24,372.00C1324.59,372.00 1340.02,372.00 1340.02,372.00" fill="none" stroke="#fad8ad" stroke-width="1.7" />
<path d="M766.40,325.90C766.40,325.90 780.33,365.18 786.18,372.00C792.03,378.82 800.11,372.00 805.96,372.00C811.81,372.00 819.89,372.00 825.74,372.00C831.59,372.00 839.67,372.00 845.52,372.00C851.37,372.00 859.45,372.00 865.30,372.00C871.15,372.00 879.23,372.00 885.08,372.00C890.93,372.00 899.01,372.00 904.86,372.00C910.71,372.00 918.79,372.00 924.64,372.00C930.49,372.00 938.57,372.00 944.42,372.00C950.27,372.00 958.35,372.00 964.20,372.00C970.05,372.00 978.13,372.00 983.98,372.00C989.83,372.00 997.91,372.00 1003.76,372.00C1009.61,372.00 1017.69,372.00 1023.54,372.00C1029.39,372.00 1037.47,372.00 1043.32,372.00C1049.17,372.00 1057.25,372.00 1063.10,372.00C1068.95,372.00 1077.03,372.00 1082.88,372.00C1088.73,372.00 1096.81,372.00 1102.66,372.00C1108.51,372.00 1116.59,372.00 1122.44,372.00C1128.29,372.00 1136.37,372.00 1142.22,372.00C1148.07,372.00 1156.15,372.00 1162.00,372.00C1167.85,372.00 1175.93,372.00 1181.78,372.00C1187.63,372.00 1195.71,372.00 1201.56,372.00C1207.41,372.00 1215.49,372.00 1221.34,372.00C1227.19,372.00 1235.27,372.00 1241.12,372.00C1246.97,372.00 1255.05,372.00 1260.90,372.00C1266.75,372.00 1274.83,372.00 1280.68,372.00C1286.53,372.00 1294.61,372.00 1300.46,372.00C1306.31,372.00 1314.39,372.00 1320.24,372.00C1324.59,372.00 1340.02,372.00 1340.02,372.00" fill="none" stroke="#f0a070" stroke-width="1.7" stroke-dasharray="1.3 1.3"/>
<path d="M766.40,348.95C766.40,348.95 780.33,368.59 786.18,372.00C792.03,375.41 800.11,372.00 805.96,372.00C811.81,372.00 819.89,372.00 825.74,372.00C831.59,372.00 839.67,372.00 845.52,372.00C851.37,372.00 859.45,372.00 865.30,372.00C871.15,372.00 879.23,372.00 885.08,372.00C890.93,372.00 899.01,372.00 904.86,372.00C910.71,372.00 918.79,372.00 924.64,372.00C930.49,372.00 938.57,372.00 944.42,372.00C950.27,372.00 958.35,372.00 964.20,372.00C970.05,372.00 978.13,372.00 983.98,372.00C989.83,372.00 997.91,372.00 1003.76,372.00C1009.61,372.00 1017.69,372.00 1023.54,372.00C1029.39,372.00 1037.47,372.00 1043.32,372.00C1049.17,372.00 1057.25,372.00 1063.10,372.00C1068.95,372.00 1077.03,372.00 1082.88,372.00C1088.73,372.00 1096.81,372.00 1102.66,372.00C1108.51,372.00 1116.59,372.00 1122.44,372.00C1128.29,372.00 1136.37,372.00 1142.22,372.00C1148.07,372.00 1156.15,372.00 1162.00,372.00C1167.85,372.00 1175.93,372.00 1181.78,372.00C1187.63,372.00 1195.71,372.00 1201.56,372.00C1207.41,372.00 1215.49,372.00 1221.34,372.00C1227.19,372.00 1235.27,372.00 1241.12,372.00C1246.97,372.00 1255.05,372.00 1260.90,372.00C1266.75,372.00 1274.83,372.00 1280.68,372.00C1286.53,372.00 1294.61,372.00 1300.46,372.00C1306.31,372.00 1314.39,372.00 1320.24,372.00C1324.59,372.00 1340.02,372.00 1340.02,372.00" fill="none" stroke="#ecdce4" stroke-width="1.7" />
<path d="M766.40,372.00C766.40,372.00 780.33,372.00 786.18,372.00C792.03,372.00 800.11,372.00 805.96,372.00C811.81,372.00 819.89,372.00 825.74,372.00C831.59,372.00 839.67,372.00 845.52,372.00C851.37,372.00 859.45,372.00 865.30,372.00C871.15,372.00 879.23,372.00 885.08,372.00C890.93,372.00 899.01,372.00 904.86,372.00C910.71,372.00 918.79,372.00 924.64,372.00C930.49,372.00 938.57,372.00 944.42,372.00C950.27,372.00 958.35,372.00 964.20,372.00C970.05,372.00 978.13,372.00 983.98,372.00C989.83,372.00 997.91,372.00 1003.76,372.00C1009.61,372.00 1017.69,372.00 1023.54,372.00C1029.39,372.00 1037.47,372.00 1043.32,372.00C1049.17,372.00 1057.25,372.00 1063.10,372.00C1068.95,372.00 1077.03,372.00 1082.88,372.00C1088.73,372.00 1096.81,372.00 1102.66,372.00C1108.51,372.00 1116.59,372.00 1122.44,372.00C1128.29,372.00 1136.37,372.00 1142.22,372.00C1148.07,372.00 1156.15,375.41 1162.00,372.00C1167.85,368.59 1175.93,348.95 1181.78,348.95C1187.63,348.95 1195.71,368.59 1201.56,372.00C1207.41,375.41 1215.49,372.00 1221.34,372.00C1227.19,372.00 1235.27,372.00 1241.12,372.00C1246.97,372.00 1255.05,372.00 1260.90,372.00C1266.75,372.00 1274.83,372.00 1280.68,372.00C1286.53,372.00 1294.61,372.00 1300.46,372.00C1306.31,372.00 1314.39,372.00 1320.24,372.00C1324.59,372.00 1340.02,372.00 1340.02,372.00" fill="none" stroke="#f7bfd0" stroke-width="1.7" />
<path d="M766.40,302.85C766.40,302.85 780.33,361.77 786.18,372.00C792.03,382.23 800.11,372.00 805.96,372.00C811.81,372.00 819.89,372.00 825.74,372.00C831.59,372.00 839.67,372.00 845.52,372.00C851.37,372.00 859.45,382.23 865.30,372.00C871.15,361.77 879.23,302.85 885.08,302.85C890.93,302.85 899.01,361.77 904.86,372.00C910.71,382.23 918.79,372.00 924.64,372.00C930.49,372.00 938.57,372.00 944.42,372.00C950.27,372.00 958.35,372.00 964.20,372.00C970.05,372.00 978.13,372.00 983.98,372.00C989.83,372.00 997.91,372.00 1003.76,372.00C1009.61,372.00 1017.69,372.00 1023.54,372.00C1029.39,372.00 1037.47,389.06 1043.32,372.00C1049.17,354.94 1057.25,256.75 1063.10,256.75C1068.95,256.75 1077.03,354.94 1082.88,372.00C1088.73,389.06 1096.81,372.00 1102.66,372.00C1108.51,372.00 1116.59,372.00 1122.44,372.00C1128.29,372.00 1136.37,372.00 1142.22,372.00C1148.07,372.00 1156.15,382.23 1162.00,372.00C1167.85,361.77 1175.93,302.85 1181.78,302.85C1187.63,302.85 1195.71,361.77 1201.56,372.00C1207.41,382.23 1215.49,372.00 1221.34,372.00C1227.19,372.00 1235.27,372.00 1241.12,372.00C1246.97,372.00 1255.05,372.00 1260.90,372.00C1266.75,372.00 1274.83,372.00 1280.68,372.00C1286.53,372.00 1294.61,372.00 1300.46,372.00C1306.31,372.00 1314.39,372.00 1320.24,372.00C1324.59,372.00 1340.02,372.00 1340.02,372.00" fill="none" stroke="#ebbcc0" stroke-width="1.7" />
<path d="M766.40,372.00C766.40,372.00 780.33,372.00 786.18,372.00C792.03,372.00 800.11,372.00 805.96,372.00C811.81,372.00 819.89,372.00 825.74,372.00C831.59,372.00 839.67,372.00 845.52,372.00C851.37,372.00 859.45,372.00 865.30,372.00C871.15,372.00 879.23,372.00 885.08,372.00C890.93,372.00 899.01,372.00 904.86,372.00C910.71,372.00 918.79,372.00 924.64,372.00C930.49,372.00 938.57,372.00 944.42,372.00C950.27,372.00 958.35,372.00 964.20,372.00C970.05,372.00 978.13,385.65 983.98,372.00C989.83,358.35 997.91,279.80 1003.76,279.80C1009.61,279.80 1017.69,358.35 1023.54,372.00C1029.39,385.65 1037.47,372.00 1043.32,372.00C1049.17,372.00 1057.25,372.00 1063.10,372.00C1068.95,372.00 1077.03,372.00 1082.88,372.00C1088.73,372.00 1096.81,382.23 1102.66,372.00C1108.51,361.77 1116.59,302.85 1122.44,302.85C1128.29,302.85 1136.37,361.77 1142.22,372.00C1148.07,382.23 1156.15,372.00 1162.00,372.00C1167.85,372.00 1175.93,372.00 1181.78,372.00C1187.63,372.00 1195.71,372.00 1201.56,372.00C1207.41,372.00 1215.49,372.00 1221.34,372.00C1227.19,372.00 1235.27,372.00 1241.12,372.00C1246.97,372.00 1255.05,372.00 1260.90,372.00C1266.75,372.00 1274.83,372.00 1280.68,372.00C1286.53,372.00 1294.61,372.00 1300.46,372.00C1306.31,372.00 1314.39,372.00 1320.24,372.00C1324.59,372.00 1340.02,372.00 1340.02,372.00" fill="none" stroke="#e86a2f" stroke-width="1.7" />
<path d="M766.40,372.00C766.40,372.00 780.33,372.00 786.18,372.00C792.03,372.00 800.11,372.00 805.96,372.00C811.81,372.00 819.89,372.00 825.74,372.00C831.59,372.00 839.67,372.00 845.52,372.00C851.37,372.00 859.45,372.00 865.30,372.00C871.15,372.00 879.23,372.00 885.08,372.00C890.93,372.00 899.01,372.00 904.86,372.00C910.71,372.00 918.79,372.00 924.64,372.00C930.49,372.00 938.57,372.00 944.42,372.00C950.27,372.00 958.35,372.00 964.20,372.00C970.05,372.00 978.13,372.00 983.98,372.00C989.83,372.00 997.91,372.00 1003.76,372.00C1009.61,372.00 1017.69,372.00 1023.54,372.00C1029.39,372.00 1037.47,372.00 1043.32,372.00C1049.17,372.00 1057.25,372.00 1063.10,372.00C1068.95,372.00 1077.03,372.00 1082.88,372.00C1088.73,372.00 1096.81,372.00 1102.66,372.00C1108.51,372.00 1116.59,372.00 1122.44,372.00C1128.29,372.00 1136.37,372.00 1142.22,372.00C1148.07,372.00 1156.15,372.00 1162.00,372.00C1167.85,372.00 1175.93,372.00 1181.78,372.00C1187.63,372.00 1195.71,372.00 1201.56,372.00C1207.41,372.00 1215.49,372.00 1221.34,372.00C1227.19,372.00 1235.27,372.00 1241.12,372.00C1246.97,372.00 1255.05,372.00 1260.90,372.00C1266.75,372.00 1274.83,378.82 1280.68,372.00C1286.53,365.18 1294.61,325.90 1300.46,325.90C1306.31,325.90 1314.39,365.18 1320.24,372.00C1324.59,377.07 1340.02,372.00 1340.02,372.00" fill="none" stroke="#4a87ad" stroke-width="1.7" />
<path d="M766.40,372.00C766.40,372.00 780.33,372.00 786.18,372.00C792.03,372.00 800.11,372.00 805.96,372.00C811.81,372.00 819.89,372.00 825.74,372.00C831.59,372.00 839.67,372.00 845.52,372.00C851.37,372.00 859.45,372.00 865.30,372.00C871.15,372.00 879.23,372.00 885.08,372.00C890.93,372.00 899.01,372.00 904.86,372.00C910.71,372.00 918.79,375.41 924.64,372.00C930.49,368.59 938.57,348.95 944.42,348.95C950.27,348.95 958.35,368.59 964.20,372.00C970.05,375.41 978.13,372.00 983.98,372.00C989.83,372.00 997.91,372.00 1003.76,372.00C1009.61,372.00 1017.69,372.00 1023.54,372.00C1029.39,372.00 1037.47,375.41 1043.32,372.00C1049.17,368.59 1057.25,348.95 1063.10,348.95C1068.95,348.95 1077.03,368.59 1082.88,372.00C1088.73,375.41 1096.81,372.00 1102.66,372.00C1108.51,372.00 1116.59,372.00 1122.44,372.00C1128.29,372.00 1136.37,372.00 1142.22,372.00C1148.07,372.00 1156.15,372.00 1162.00,372.00C1167.85,372.00 1175.93,372.00 1181.78,372.00C1187.63,372.00 1195.71,372.00 1201.56,372.00C1207.41,372.00 1215.49,375.41 1221.34,372.00C1227.19,368.59 1235.27,348.95 1241.12,348.95C1246.97,348.95 1255.05,368.59 1260.90,372.00C1266.75,375.41 1274.83,375.41 1280.68,372.00C1286.53,368.59 1294.61,348.95 1300.46,348.95C1306.31,348.95 1314.39,368.59 1320.24,372.00C1324.59,374.54 1340.02,372.00 1340.02,372.00" fill="none" stroke="#f0962e" stroke-width="1.9" />
<path d="M766.40,279.80C766.40,279.80 780.33,358.35 786.18,372.00C792.03,385.65 800.11,372.00 805.96,372.00C811.81,372.00 819.89,372.00 825.74,372.00C831.59,372.00 839.67,372.00 845.52,372.00C851.37,372.00 859.45,392.47 865.30,372.00C871.15,351.53 879.23,233.70 885.08,233.70C890.93,233.70 899.01,351.53 904.86,372.00C910.71,392.47 918.79,372.00 924.64,372.00C930.49,372.00 938.57,372.00 944.42,372.00C950.27,372.00 958.35,372.00 964.20,372.00C970.05,372.00 978.13,382.23 983.98,372.00C989.83,361.77 997.91,302.85 1003.76,302.85C1009.61,302.85 1017.69,361.77 1023.54,372.00C1029.39,382.23 1037.47,392.47 1043.32,372.00C1049.17,351.53 1057.25,233.70 1063.10,233.70C1068.95,233.70 1077.03,351.53 1082.88,372.00C1088.73,392.47 1096.81,412.94 1102.66,372.00C1108.51,331.06 1116.59,95.40 1122.44,95.40C1128.29,95.40 1136.37,331.06 1142.22,372.00C1148.07,412.94 1156.15,402.70 1162.00,372.00C1167.85,341.30 1175.93,164.55 1181.78,164.55C1187.63,164.55 1195.71,341.30 1201.56,372.00C1207.41,402.70 1215.49,392.47 1221.34,372.00C1227.19,351.53 1235.27,233.70 1241.12,233.70C1246.97,233.70 1255.05,351.53 1260.90,372.00C1266.75,392.47 1274.83,382.23 1280.68,372.00C1286.53,361.77 1294.61,302.85 1300.46,302.85C1306.31,302.85 1314.39,361.77 1320.24,372.00C1324.59,379.61 1340.02,372.00 1340.02,372.00" fill="none" stroke="#fde6a8" stroke-width="1.7" />
<path d="M786.18,372.00C792.03,378.82 800.11,378.82 805.96,372.00" fill="none" stroke="#ec7444" stroke-width="1.3" />
<path d="M845.52,372.00C851.37,378.82 859.45,378.82 865.30,372.00" fill="none" stroke="#ec7444" stroke-width="1.3" />
<path d="M904.86,372.00C910.71,378.82 918.79,378.82 924.64,372.00" fill="none" stroke="#ec7444" stroke-width="1.3" />
<path d="M964.20,372.00C970.05,378.82 978.13,372.00 983.98,372.00" fill="none" stroke="#ec7444" stroke-width="1.3" />
<path d="M1023.54,372.00C1029.39,377.12 1037.47,372.00 1043.32,372.00" fill="none" stroke="#4a87ad" stroke-width="1.5" />
<path d="M766.40,372.00C766.40,372.00 780.33,372.00 786.18,372.00C792.03,372.00 800.11,372.00 805.96,372.00C811.81,372.00 819.89,372.00 825.74,372.00C831.59,372.00 839.67,372.00 845.52,372.00C851.37,372.00 859.45,378.82 865.30,372.00C871.15,365.18 879.23,325.90 885.08,325.90C890.93,325.90 899.01,365.18 904.86,372.00C910.71,378.82 918.79,372.00 924.64,372.00C930.49,372.00 938.57,372.00 944.42,372.00C950.27,372.00 958.35,372.00 964.20,372.00C970.05,372.00 978.13,372.00 983.98,372.00C989.83,372.00 997.91,372.00 1003.76,372.00C1009.61,372.00 1017.69,372.00 1023.54,372.00C1029.39,372.00 1037.47,372.00 1043.32,372.00C1049.17,372.00 1057.25,372.00 1063.10,372.00C1068.95,372.00 1077.03,372.00 1082.88,372.00C1088.73,372.00 1096.81,372.00 1102.66,372.00C1108.51,372.00 1116.59,372.00 1122.44,372.00C1128.29,372.00 1136.37,372.00 1142.22,372.00C1148.07,372.00 1156.15,372.00 1162.00,372.00C1167.85,372.00 1175.93,372.00 1181.78,372.00C1187.63,372.00 1195.71,372.00 1201.56,372.00C1207.41,372.00 1215.49,372.00 1221.34,372.00C1227.19,372.00 1235.27,372.00 1241.12,372.00C1246.97,372.00 1255.05,372.00 1260.90,372.00C1266.75,372.00 1274.83,372.00 1280.68,372.00C1286.53,372.00 1294.61,372.00 1300.46,372.00C1306.31,372.00 1314.39,372.00 1320.24,372.00C1324.59,372.00 1340.02,372.00 1340.02,372.00" fill="none" stroke="#6e4a80" stroke-width="1.9" />
<line x1="845.52" x2="924.64" y1="372.0" y2="372.0" stroke="#c3ced6" stroke-width="2"/>
<path d="M766.40,372.00C766.40,372.00 780.33,372.00 786.18,372.00C792.03,372.00 800.11,372.00 805.96,372.00C811.81,372.00 819.89,372.00 825.74,372.00C831.59,372.00 839.67,372.00 845.52,372.00C851.37,372.00 859.45,375.41 865.30,372.00C871.15,368.59 879.23,348.95 885.08,348.95C890.93,348.95 899.01,368.59 904.86,372.00C910.71,375.41 918.79,372.00 924.64,372.00C930.49,372.00 938.57,372.00 944.42,372.00C950.27,372.00 958.35,372.00 964.20,372.00C970.05,372.00 978.13,372.00 983.98,372.00C989.83,372.00 997.91,372.00 1003.76,372.00C1009.61,372.00 1017.69,372.00 1023.54,372.00C1029.39,372.00 1037.47,372.00 1043.32,372.00C1049.17,372.00 1057.25,372.00 1063.10,372.00C1068.95,372.00 1077.03,372.00 1082.88,372.00C1088.73,372.00 1096.81,372.00 1102.66,372.00C1108.51,372.00 1116.59,372.00 1122.44,372.00C1128.29,372.00 1136.37,372.00 1142.22,372.00C1148.07,372.00 1156.15,372.00 1162.00,372.00C1167.85,372.00 1175.93,372.00 1181.78,372.00C1187.63,372.00 1195.71,372.00 1201.56,372.00C1207.41,372.00 1215.49,372.00 1221.34,372.00C1227.19,372.00 1235.27,372.00 1241.12,372.00C1246.97,372.00 1255.05,372.00 1260.90,372.00C1266.75,372.00 1274.83,372.00 1280.68,372.00C1286.53,372.00 1294.61,372.00 1300.46,372.00C1306.31,372.00 1314.39,372.00 1320.24,372.00C1324.59,372.00 1340.02,372.00 1340.02,372.00" fill="none" stroke="#8070b0" stroke-width="2" />
<path d="M865.30,372.00C871.15,368.59 879.23,348.95 885.08,348.95C890.93,348.95 899.01,368.59 904.86,372.00" fill="none" stroke="#5e5890" stroke-width="2" stroke-dasharray="1.3 1.3"/>
</g>
<rect x="1349.75" y="80.70" width="7.3" height="7" fill="#6e4a80"/>
<text x="1360.05" y="85.80" font-size="11.6" fill="#505050">67</text>
<rect x="1349.75" y="93.22" width="7.3" height="7" fill="#e86a2f"/>
<text x="1360.05" y="98.32" font-size="11.6" fill="#505050">80</text>
<rect x="1349.75" y="105.74" width="7.3" height="7" fill="#c94140"/>
<text x="1360.05" y="110.84" font-size="11.6" fill="#505050">137</text>
<rect x="1349.75" y="118.26" width="7.3" height="7" fill="#f0962e"/>
<text x="1360.05" y="123.36" font-size="11.6" fill="#505050">138</text>
<rect x="1349.75" y="130.78" width="7.3" height="7" fill="#4a87ad"/>
<text x="1360.05" y="135.88" font-size="11.6" fill="#505050">443</text>
<rect x="1349.75" y="143.30" width="7.3" height="7" fill="#ebbcc0"/>
<text x="1360.05" y="148.40" font-size="11.6" fill="#505050">445</text>
<rect x="1349.75" y="155.82" width="7.3" height="7" fill="#fad8ad"/>
<text x="1360.05" y="160.92" font-size="11.6" fill="#505050">1087</text>
<rect x="1349.75" y="168.34" width="7.3" height="7" fill="#c2d8e4"/>
<text x="1360.05" y="173.44" font-size="11.6" fill="#505050">1268</text>
<rect x="1349.75" y="180.86" width="7.3" height="7" fill="#7d67ae"/>
<text x="1360.05" y="185.96" font-size="11.6" fill="#505050">1368</text>
<rect x="1349.75" y="193.38" width="7.3" height="7" fill="#46909e"/>
<text x="1360.05" y="198.48" font-size="11.6" fill="#505050">1406</text>
<rect x="1349.75" y="205.90" width="7.3" height="7" fill="#2f6fb5"/>
<text x="1360.05" y="211.00" font-size="11.6" fill="#505050">1461</text>
<rect x="1349.75" y="218.42" width="7.3" height="7" fill="#4aab3e"/>
<text x="1360.05" y="223.52" font-size="11.6" fill="#505050">1524</text>
<rect x="1349.75" y="230.94" width="7.3" height="7" fill="#d3cbe5"/>
<text x="1360.05" y="236.04" font-size="11.6" fill="#505050">1602</text>
<rect x="1349.75" y="243.46" width="7.3" height="7" fill="#b8d6d8"/>
<text x="1360.05" y="248.56" font-size="11.6" fill="#505050">1619</text>
<rect x="1349.75" y="255.98" width="7.3" height="7" fill="#acc6e4"/>
<text x="1360.05" y="261.08" font-size="11.6" fill="#505050">1888</text>
<rect x="1349.75" y="268.50" width="7.3" height="7" fill="#b5dcaa"/>
<text x="1360.05" y="273.60" font-size="11.6" fill="#505050">2117</text>
<rect x="1349.75" y="281.02" width="7.3" height="7" fill="#e8e4f2"/>
<text x="1360.05" y="286.12" font-size="11.6" fill="#505050">2861</text>
<rect x="1349.75" y="293.54" width="7.3" height="7" fill="#deeced"/>
<text x="1360.05" y="298.64" font-size="11.6" fill="#505050">2888</text>
<rect x="1349.75" y="306.06" width="7.3" height="7" fill="#dce6f2"/>
<text x="1360.05" y="311.16" font-size="11.6" fill="#505050">4730</text>
<rect x="1349.75" y="318.58" width="7.3" height="7" fill="#e2f0dc"/>
<text x="1360.05" y="323.68" font-size="11.6" fill="#505050">49885</text>
<rect x="1349.75" y="331.10" width="7.3" height="7" fill="#e54d72"/>
<text x="1360.05" y="336.20" font-size="11.6" fill="#505050">50955</text>
<rect x="1349.75" y="343.62" width="7.3" height="7" fill="#fac32c"/>
<text x="1360.05" y="348.72" font-size="11.6" fill="#505050">51713</text>
<rect x="1349.75" y="356.14" width="7.3" height="7" fill="#f7bfd0"/>
<text x="1360.05" y="361.24" font-size="11.6" fill="#505050">52198</text>
<rect x="1349.75" y="368.66" width="7.3" height="7" fill="#fde6a8"/>
<text x="1360.05" y="373.76" font-size="11.6" fill="#505050">null</text>
<circle cx="1330" cy="85.8" r="7.1" fill="none" stroke="#7a5a9a" stroke-width="1.1"/><path d="M1327.3,82.1 L1334.8,86.1 L1327.3,90.4 Z" fill="#6b4a80"/>
</svg></div></body></html>
